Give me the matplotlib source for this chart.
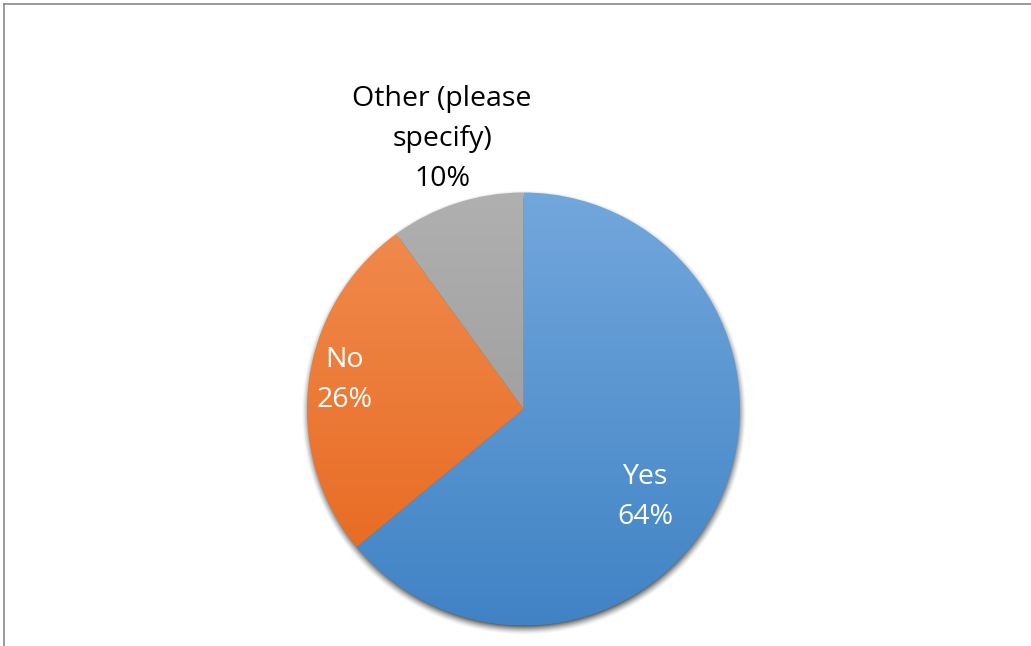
import matplotlib

matplotlib.use("Agg")
import matplotlib.pyplot as plt
import numpy as np
from matplotlib.colors import LinearSegmentedColormap

labels = ["Yes", "No", "Other (please\nspecify)"]
shares = [64, 26, 10]
# top / bottom colour of each slice's vertical gradient
top_colors = ["#72a7dc", "#f18d52", "#b0b0b0"]
bottom_colors = ["#4083c5", "#e6661a", "#939393"]

W, H = 1031, 646
CX, CY, R = 523.5, 237.0, 216.5

plt.rcParams["font.family"] = ["Open Sans", "DejaVu Sans"]

fig = plt.figure(figsize=(W / 100, H / 100), dpi=100)
ax = fig.add_axes([0, 0, 1, 1])

# soft drop shadow under the pie
yy, xx = np.mgrid[0:H, 0:W]
d = np.hypot(xx - CX, yy - (CY - 4))
shadow = np.clip((R + 6 - d) / 9.0, 0, 1) ** 1.5 * 0.75
rgba = np.zeros((H, W, 4))
rgba[..., :3] = 0.2
rgba[..., 3] = shadow
ax.imshow(rgba, extent=(0, W, 0, H), origin="lower", zorder=1)

wedges, _ = ax.pie(
    shares,
    startangle=90,
    counterclock=False,
    center=(CX, CY),
    radius=R,
    frame=True,
    wedgeprops=dict(linewidth=0),
)
ax.set_xlim(0, W)
ax.set_ylim(0, H)
ax.set_aspect("equal")
ax.axis("off")

grad = np.linspace(0, 1, 256).reshape(-1, 1)
for w, c0, c1 in zip(wedges, top_colors, bottom_colors):
    w.set_facecolor("none")
    cmap = LinearSegmentedColormap.from_list("g", [c1, c0])
    im = ax.imshow(
        grad,
        cmap=cmap,
        extent=(CX - R, CX + R, CY - R, CY + R),
        origin="lower",
        aspect="auto",
        zorder=2,
    )
    im.set_clip_path(w)

# data labels
txt = dict(fontsize=20.5, ha="center", va="center", linespacing=1.55, zorder=3)
ax.text(645, H - 497, f"{labels[0]}\n{shares[0]}%", color="white", **txt)
ax.text(345, H - 380, f"{labels[1]}\n{shares[1]}%", color="white", **txt)
ax.text(442, H - 139, f"{labels[2]}\n{shares[2]}%", color="black", **txt)

# chart frame
fig.add_artist(plt.Line2D([3.5 / W, 3.5 / W], [0, 1 - 3.5 / H], transform=fig.transFigure,
                          color="#8a8a8a", linewidth=1.2))
fig.add_artist(plt.Line2D([3.5 / W, 1], [1 - 3.5 / H, 1 - 3.5 / H], transform=fig.transFigure,
                          color="#8a8a8a", linewidth=1.2))

fig.savefig("out.png", dpi=100)
